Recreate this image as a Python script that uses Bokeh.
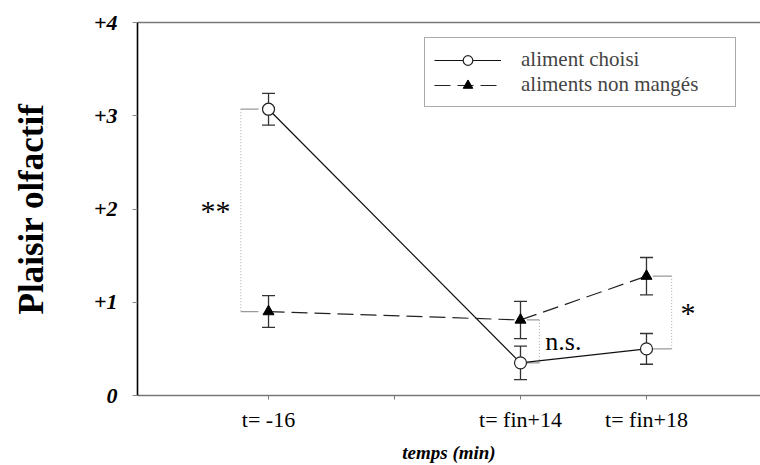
from bokeh.plotting import figure
from bokeh.models import (ColumnDataSource, Whisker, TeeHead, Legend, LegendItem,
                          FixedTicker, LinearAxis, Range1d)
from bokeh.core.properties import value
from bokeh.embed import file_html
from bokeh.resources import INLINE

# ---------------- data ----------------
time_labels = ["t= -16", "t= fin+14", "t= fin+18"]
time_pos = [1, 3, 4]
choisi = [3.07, 0.35, 0.50]
choisi_err = [0.17, 0.18, 0.165]
non_manges = [0.90, 0.81, 1.28]
non_manges_err = [0.17, 0.20, 0.20]
y_ticks = [0, 1, 2, 3, 4]
y_tick_labels = ["0", "+1", "+2", "+3", "+4"]
sig_labels = ["**", "n.s.", "*"]

# ---------------- layout / style ----------------
FONT = "'Liberation Serif', serif"
bracket_dx = [-0.22, 0.15, 0.20]     # vertical dotted line offset from the time point
cap_dx = [-0.08, 0.05, 0.05]         # cap end offset from the time point
text_dx = [-0.42, 0.34, 0.33]        # text centre offset from the time point
text_sizes = ["30px", "26px", "30px"]

p = figure(width=760, height=465, x_range=Range1d(-0.04, 4.905), y_range=Range1d(0, 4),
           output_backend="svg", toolbar_location=None,
           min_border_left=137, min_border_right=0, min_border_top=22, min_border_bottom=70)
p.xgrid.visible = False
p.ygrid.visible = False
p.outline_line_color = None
p.background_fill_color = "white"
p.border_fill_color = "white"

# x axis
xa = p.xaxis[0]
xa.ticker = FixedTicker(ticks=[1, 2, 3, 4])
overrides = {2: ""}
for pos, lab in zip(time_pos, time_labels):
    overrides[pos] = lab
xa.major_label_overrides = overrides
xa.axis_line_color = "#777777"
xa.axis_line_width = 1.6
xa.major_tick_line_color = "#777777"
xa.major_tick_out = 4
xa.major_tick_in = 0
xa.minor_tick_line_color = None
xa.major_label_text_font = FONT
xa.major_label_text_font_size = "22px"
xa.major_label_text_color = "black"
xa.major_label_standoff = 7
xa.axis_label = "temps (min)"
xa.axis_label_text_font = FONT
xa.axis_label_text_font_style = "bold italic"
xa.axis_label_text_font_size = "19px"
xa.axis_label_text_color = "black"
xa.axis_label_standoff = 7

# y axis
ya = p.yaxis[0]
ya.ticker = FixedTicker(ticks=y_ticks)
ya.major_label_overrides = {t: l for t, l in zip(y_ticks, y_tick_labels)}
ya.axis_line_color = "black"
ya.axis_line_width = 1.6
ya.major_tick_line_color = "#888888"
ya.major_tick_out = 5
ya.major_tick_in = 0
ya.minor_tick_line_color = None
ya.major_label_text_font = FONT
ya.major_label_text_font_style = "bold italic"
ya.major_label_text_font_size = "22px"
ya.major_label_text_color = "black"
ya.major_label_standoff = 15
ya.axis_label = "Plaisir olfactif"
ya.axis_label_text_font = FONT
ya.axis_label_text_font_style = "bold"
ya.axis_label_text_font_size = "35px"
ya.axis_label_text_color = "black"
ya.axis_label_standoff = 40

# top frame line
top = LinearAxis(ticker=FixedTicker(ticks=[]), axis_line_color="#777777", axis_line_width=1.6,
                 major_tick_line_color=None, minor_tick_line_color=None,
                 major_label_text_font_size="0px", major_label_standoff=0)
p.add_layout(top, "above")

# sources
src1 = ColumnDataSource(dict(x=time_pos, y=choisi,
                             upper=[v + e for v, e in zip(choisi, choisi_err)],
                             lower=[v - e for v, e in zip(choisi, choisi_err)]))
src2 = ColumnDataSource(dict(x=time_pos, y=non_manges,
                             upper=[v + e for v, e in zip(non_manges, non_manges_err)],
                             lower=[v - e for v, e in zip(non_manges, non_manges_err)]))

# error bars
for src in (src1, src2):
    w = Whisker(base="x", upper="upper", lower="lower", source=src,
                line_color="#333333", line_width=1.3,
                upper_head=TeeHead(size=13, line_color="#333333", line_width=1.3),
                lower_head=TeeHead(size=13, line_color="#333333", line_width=1.3))
    p.add_layout(w)

# significance brackets
bx, by0, by1, cx0, cx1, cy = [], [], [], [], [], []
tx, ty = [], []
for i, pos in enumerate(time_pos):
    a, b = choisi[i], non_manges[i]
    bx.append(pos + bracket_dx[i]); by0.append(a); by1.append(b)
    for yv in (a, b):
        cx0.append(pos + bracket_dx[i]); cx1.append(pos + cap_dx[i]); cy.append(yv)
    tx.append(pos + text_dx[i]); ty.append((a + b) / 2)
p.segment(x0=bx, y0=by0, x1=bx, y1=by1, line_color="#aaaaaa", line_width=1, line_dash="1 2")
p.segment(x0=cx0, y0=cy, x1=cx1, y1=cy, line_color="#999999", line_width=1.2)
for i in range(len(sig_labels)):
    p.text(x=[tx[i]], y=[ty[i]], text=[sig_labels[i]], text_font=value(FONT),
           text_font_size=text_sizes[i], text_align="center", text_baseline="middle",
           text_color="black")

# series
l1 = p.line("x", "y", source=src1, line_color="#111111", line_width=1.2)
l2 = p.line("x", "y", source=src2, line_color="#222222", line_width=1.2, line_dash="16 7")
s1 = p.scatter("x", "y", source=src1, marker="circle", size=12, fill_color="white",
               line_color="#222222", line_width=1.2)
s2 = p.scatter("x", "y", source=src2, marker="triangle", size=11, fill_color="black",
               line_color="black")

legend = Legend(items=[LegendItem(label="aliment choisi", renderers=[l1, s1]),
                       LegendItem(label="aliments non mangés", renderers=[l2, s2])],
                location=(287, 288), margin=0, padding=9, spacing=0,
                glyph_width=67, glyph_height=24, label_height=24, label_standoff=20,
                label_width=205,
                label_text_font=FONT, label_text_font_size="21px",
                label_text_baseline="middle",
                border_line_color="#555555", border_line_width=1,
                background_fill_color="white", background_fill_alpha=1.0)
p.add_layout(legend)

open("out.html", "w").write(file_html(p, INLINE))
